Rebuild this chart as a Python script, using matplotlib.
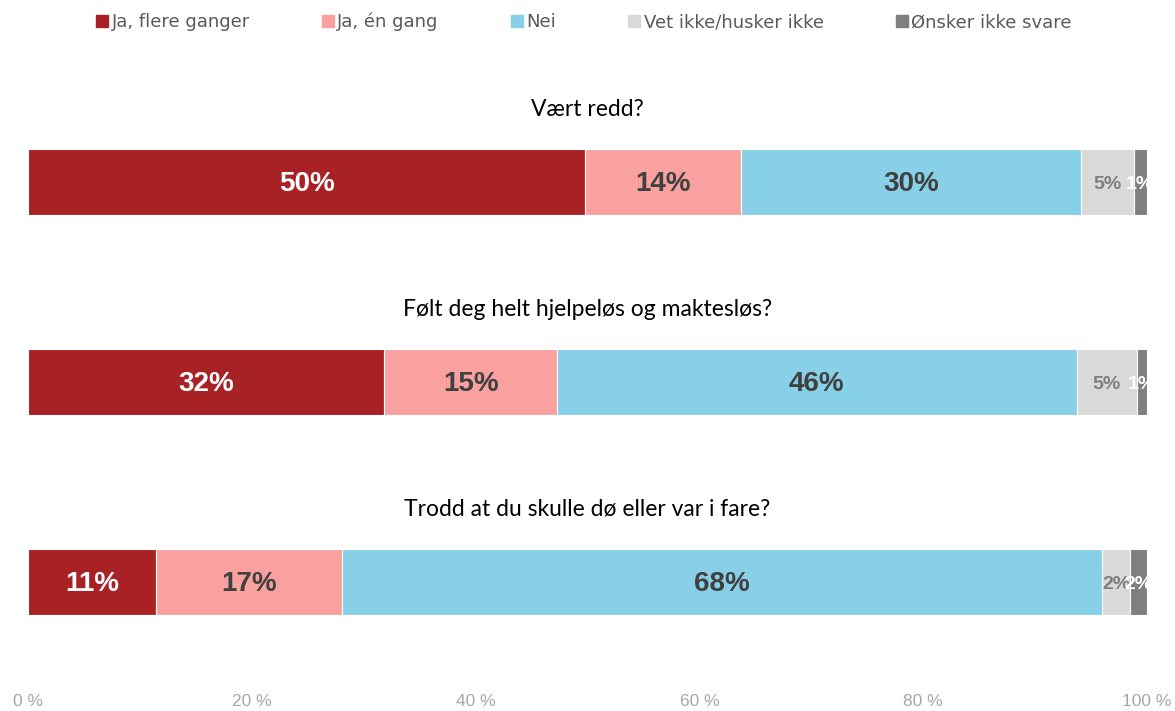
import matplotlib
matplotlib.use("Agg")
import matplotlib.pyplot as plt
from matplotlib.patches import Rectangle

questions = ["Vært redd?", "Følt deg helt hjelpeløs og maktesløs?", "Trodd at du skulle dø eller var i fare?"]
series = ["Ja, flere ganger", "Ja, én gang", "Nei", "Vet ikke/husker ikke", "Ønsker ikke svare"]
values = {
    "Ja, flere ganger": [49.8, 31.8, 11.4],
    "Ja, én gang": [13.9, 15.5, 16.7],
    "Nei": [30.4, 46.4, 67.9],
    "Vet ikke/husker ikke": [4.7, 5.4, 2.5],
    "Ønsker ikke svare": [1.2, 0.9, 1.5],
}
labels = {
    "Ja, flere ganger": ["50%", "32%", "11%"],
    "Ja, én gang": ["14%", "15%", "17%"],
    "Nei": ["30%", "46%", "68%"],
    "Vet ikke/husker ikke": ["5%", "5%", "2%"],
    "Ønsker ikke svare": ["1%", "1%", "2%"],
}
colors = ["#A82125", "#F8A19F", "#88D0E8", "#D9D9D9", "#7F7F7F"]
text_colors = ["white", "#404040", "#404040", "#7F7F7F", "white"]
label_sizes = [20, 20, 20, 14, 14]
xticks = [0, 20, 40, 60, 80, 100]
xticklabels = ["0 %", "20 %", "40 %", "60 %", "80 %", "100 %"]

W, H = 1175, 711
fig = plt.figure(figsize=(W / 100, H / 100), dpi=100)
ax = fig.add_axes([28 / W, (H - 682) / H, 1119 / W, 600 / H])

ypos = list(range(len(questions)))
left = [0.0] * len(questions)
for s, c, tc, fs in zip(series, colors, text_colors, label_sizes):
    vals = values[s]
    ax.barh(ypos, vals, left=left, height=0.33, color=c, edgecolor="white", linewidth=0.8)
    for i, (v, l) in enumerate(zip(vals, labels[s])):
        ax.text(left[i] + v / 2, ypos[i] + 0.012, l, ha="center", va="center", color=tc,
                fontsize=fs, fontweight="bold", family=["Liberation Sans", "DejaVu Sans"],
                clip_on=False)
    left = [a + b for a, b in zip(left, vals)]

for i, q in enumerate(questions):
    ax.text(50, i - 0.365, q, ha="center", va="center", fontsize=16.5, color="black",
            family=["Lato", "DejaVu Sans"])

ax.set_xlim(0, 100)
ax.set_ylim(2.5, -0.5)
ax.set_xticks(xticks)
ax.set_xticklabels(xticklabels, color="#A6A6A6", fontsize=12.5,
                   family=["Liberation Sans Narrow", "Liberation Sans", "DejaVu Sans"])
ax.tick_params(axis="x", length=0, pad=9)
ax.set_yticks([])
for sp in ax.spines.values():
    sp.set_visible(False)

# legend
handles = [Rectangle((0, 0), 1, 1, color=c) for c in colors]
leg = fig.legend(handles, series, loc="center", bbox_to_anchor=(0.497, (H - 22) / H), ncol=5,
                 frameon=False, handlelength=0.65, handleheight=0.65, handletextpad=0.2,
                 columnspacing=4.0, prop={"family": ["DejaVu Sans"], "size": 13})
for t in leg.get_texts():
    t.set_color("#595959")

fig.savefig("out.png", dpi=100)
